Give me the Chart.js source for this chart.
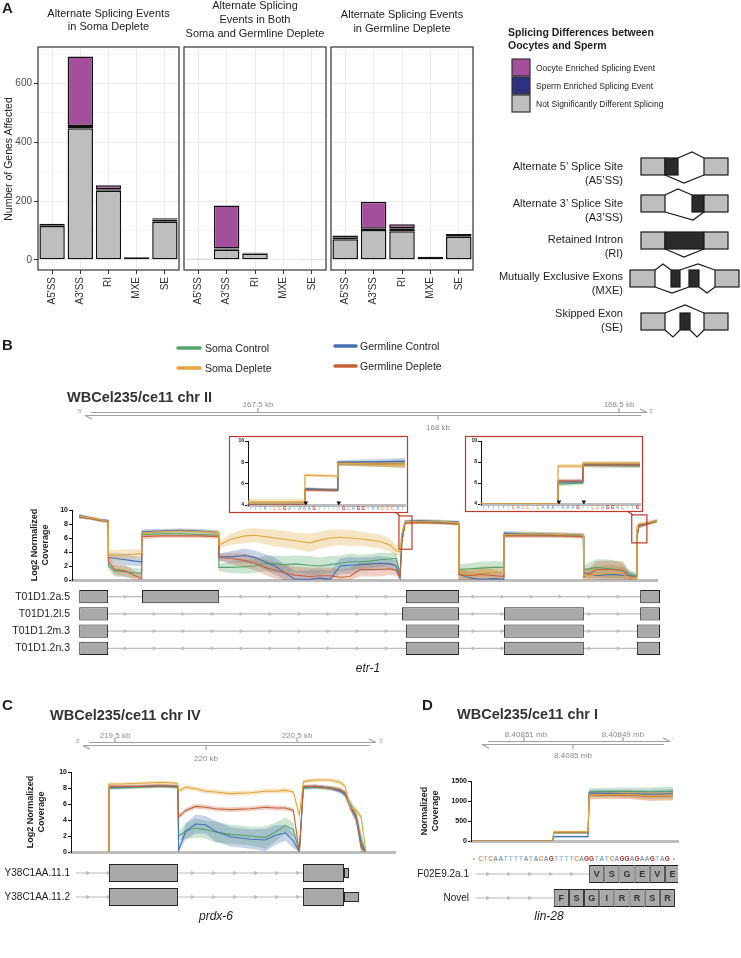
<!DOCTYPE html>
<html>
<head>
<meta charset="utf-8">
<title>Alternative splicing figure</title>
<script src="https://cdn.jsdelivr.net/npm/chart.js@4.4.1/dist/chart.umd.min.js"></script>
<style>
  body { margin: 0; background: #fff; }
  #page { position: relative; width: 741px; height: 958px; overflow: hidden; font-family: "Liberation Sans", Arial, sans-serif; color: #222; }
  #page canvas { position: absolute; left: 0; top: 0; }
  #art { position: absolute; left: 0; top: 0; }
  .t { position: absolute; white-space: pre; }
</style>
</head>
<body>
<div id="page">
  <canvas id="a1" width="741" height="958"></canvas>
  <canvas id="a2" width="741" height="958"></canvas>
  <canvas id="a3" width="741" height="958"></canvas>
  <canvas id="bCov" width="741" height="958"></canvas>
  <canvas id="bIn1" width="741" height="958"></canvas>
  <canvas id="bIn2" width="741" height="958"></canvas>
  <canvas id="bGenes" width="741" height="958"></canvas>
  <canvas id="cCov" width="741" height="958"></canvas>
  <canvas id="cGenes" width="741" height="958"></canvas>
  <canvas id="dCov" width="741" height="958"></canvas>
  <canvas id="dGenes" width="741" height="958"></canvas>

  <svg id="art" width="741" height="958" font-family="Liberation Sans, Arial, sans-serif">
    <!-- panel A key -->
    <g stroke="#333" stroke-width="1.2">
      <rect x="512" y="59" width="18" height="17" fill="#a44f9c"/>
      <rect x="512" y="77" width="18" height="17" fill="#2e3281"/>
      <rect x="512" y="95" width="18" height="17" fill="#bebebe"/>
    </g>
    <!-- splicing event schematics -->
    <g stroke="#1a1a1a" stroke-width="1.2">
      <rect x="641" y="158" width="24" height="17" fill="#bebebe"/>
      <rect x="665" y="158" width="13" height="17" fill="#2b2b2b"/>
      <rect x="704" y="158" width="24" height="17" fill="#bebebe"/>
      <polyline fill="none" points="678,158 692,152 704,158"/>
      <polyline fill="none" points="665,175 684,183 704,175"/>

      <rect x="641" y="195" width="24" height="17" fill="#bebebe"/>
      <rect x="692" y="195" width="12" height="17" fill="#2b2b2b"/>
      <rect x="704" y="195" width="24" height="17" fill="#bebebe"/>
      <polyline fill="none" points="665,195 678,189 692,195"/>
      <polyline fill="none" points="665,212 693,220 704,212"/>

      <rect x="641" y="232" width="24" height="17" fill="#bebebe"/>
      <rect x="665" y="232" width="39" height="17" fill="#2b2b2b"/>
      <rect x="704" y="232" width="24" height="17" fill="#bebebe"/>
      <polyline fill="none" points="665,249 684,257 704,249"/>

      <rect x="630" y="270" width="25" height="17" fill="#bebebe"/>
      <rect x="671" y="270" width="9" height="17" fill="#2b2b2b"/>
      <rect x="689" y="270" width="10" height="17" fill="#2b2b2b"/>
      <rect x="715" y="270" width="24" height="17" fill="#bebebe"/>
      <polyline fill="none" points="655,270 663,264 671,270"/>
      <polyline fill="none" points="680,270 698,264 715,270"/>
      <polyline fill="none" points="655,287 672,293 689,287"/>
      <polyline fill="none" points="699,287 707,293 715,287"/>

      <rect x="641" y="313" width="24" height="17" fill="#bebebe"/>
      <rect x="680" y="313" width="10" height="17" fill="#2b2b2b"/>
      <rect x="704" y="313" width="24" height="17" fill="#bebebe"/>
      <polyline fill="none" points="665,313 685,305 704,313"/>
      <polyline fill="none" points="665,330 673,337 680,330"/>
      <polyline fill="none" points="690,330 697,337 704,330"/>
    </g>
    <!-- panel B coverage key -->
    <g stroke-width="3.5" stroke-linecap="round">
      <line x1="178" y1="348" x2="200" y2="348" stroke="#55a46b"/>
      <line x1="178" y1="368" x2="200" y2="368" stroke="#e2a83e"/>
      <line x1="335" y1="346" x2="356" y2="346" stroke="#4471b4"/>
      <line x1="335" y1="366" x2="356" y2="366" stroke="#c8623a"/>
    </g>
    <!-- genome rulers -->
    <g stroke="#a0a0a0" stroke-width="1.2" fill="none">
      <path d="M91 412.5 H647 L640 409 M85 415.5 H641 M85 415.5 L92 419 M258 412.5 V408 M619 412.5 V408 M438 415.5 V420"/>
      <path d="M89 742.5 H376 L369 739 M83 745.5 H370 M83 745.5 L90 749 M115 742.5 V738 M297 742.5 V738 M206 745.5 V750"/>
      <path d="M488 741.5 H670 L663 738 M482 744.5 H664 M482 744.5 L489 748 M524 741.5 V737 M623 741.5 V737 M573 744.5 V749"/>
    </g>
    <g font-size="8" fill="#8c8c8c" text-anchor="middle">
      <text x="258" y="407">167.5 kb</text>
      <text x="438" y="430">168 kb</text>
      <text x="619" y="407">168.5 kb</text>
      <text x="115" y="738">219.5 kb</text>
      <text x="206" y="761">220 kb</text>
      <text x="297" y="738">220.5 kb</text>
      <text x="526" y="737">8.40851 mb</text>
      <text x="573" y="758">8.4085 mb</text>
      <text x="623" y="737">8.40849 mb</text>
    </g>
    <g font-size="6" fill="#9a9a9a">
      <text x="78" y="413">5'</text>
      <text x="649" y="413">3'</text>
      <text x="76" y="743">5'</text>
      <text x="379" y="743">3'</text>
      <text x="672" y="742">'</text>
    </g>
    <!-- zoom frames for panel B -->
    <g stroke="#c0392b" stroke-width="1.2" fill="none">
      <rect x="229.5" y="436.5" width="178" height="76"/>
      <rect x="465.5" y="436.5" width="177" height="75"/>
      <line x1="396" y1="512.5" x2="400" y2="516"/>
      <line x1="628" y1="511.5" x2="633" y2="515"/>
    </g>
  </svg>
</div>

<script>
Chart.defaults.animation = false;
Chart.defaults.responsive = false;
Chart.defaults.maintainAspectRatio = false;
Chart.defaults.events = [];
Chart.defaults.font.family = '"Liberation Sans", Arial, sans-serif';
Chart.defaults.plugins.legend.display = false;
Chart.defaults.plugins.tooltip.enabled = false;
Chart.defaults.layout.autoPadding = false;

const W = 741, H = 958;

// ---------- panel A : splicing events per category ----------
const aCats = ["A5'SS", "A3'SS", 'RI', 'MXE', 'SE'];
const somaNS = [115, 448, 235, 9, 130];
const somaSperm = [3, 8, 5, 0, 7];
const somaOocyte = [5, 236, 14, 0, 5];
const bothNS = [3, 34, 22, 0, 2];
const bothSperm = [1, 5, 2, 0, 1];
const bothOocyte = [0, 146, 1, 0, 0];
const germNS = [70, 102, 97, 11, 79];
const germSperm = [5, 4, 11, 0, 6];
const germOocyte = [8, 92, 13, 0, 3];
const aTicks = [0, 100, 200, 300, 400, 500, 600, 700];

// ---------- panel B : etr-1 coverage (log2) ----------
const bX = [167006, 167036, 167064, 167086,
  167087, 167105, 167133, 167161, 167179,
  167180, 167230, 167285, 167341, 167392,
  167393, 167424, 167465, 167493, 167521, 167548, 167576, 167604, 167645, 167673, 167701, 167729, 167756, 167784, 167812, 167839, 167867, 167884, 167895,
  167900,
  167909, 167950, 168006, 168057,
  168058, 168089, 168116, 168158, 168182,
  168183, 168255, 168338, 168403,
  168404, 168440, 168476, 168512, 168532, 168549,
  168551,
  168557, 168573, 168607];
const bSomaDep = [9.1, 8.9, 8.6, 8.4,
  3.6, 3.5, 3.6, 3.7, 3.8,
  6.7, 6.9, 7.0, 6.9, 6.8,
  5.0, 5.8, 6.3, 6.4, 6.2, 6.0, 5.8, 5.6, 5.3, 5.7, 6.0, 6.1, 6.0, 5.9, 5.7, 5.5, 5.0, 4.2, 4.0,
  6.8,
  8.3, 8.4, 8.4, 8.2,
  1.0, 0.8, 1.0, 1.1, 1.0,
  6.5, 6.6, 6.5, 6.4,
  0.6, 0.8, 1.0, 0.9, 0.3, 0.2,
  7.6,
  8.0, 8.1, 8.5];
const bSomaCtl = [9.0, 8.8, 8.5, 8.3,
  2.0, 1.3, 1.2, 1.0, 1.0,
  6.5, 6.6, 6.6, 6.5, 6.4,
  1.8, 1.8, 1.9, 2.0, 2.4, 2.3, 2.2, 2.3, 2.1, 2.0, 2.2, 2.4, 2.6, 2.6, 2.7, 2.9, 3.0, 3.1, 1.0,
  5.5,
  8.2, 8.3, 8.2, 8.0,
  1.5, 1.6, 1.7, 1.8, 1.8,
  6.4, 6.5, 6.4, 6.3,
  1.5, 1.8, 1.6, 1.4, 0.8, 0.6,
  6.0,
  7.7, 7.9, 8.4];
const bGermCtl = [9.2, 8.9, 8.6, 8.5,
  3.2, 3.1, 2.9, 2.7, 2.6,
  6.9, 7.0, 7.1, 7.0, 6.8,
  3.3, 3.3, 3.5, 3.2, 2.6, 2.0, 1.0, 0.1, 0.1, 0.3, 0.1, 2.0, 2.1, 2.2, 2.3, 2.4, 2.3, 2.0, 0.3,
  5.5,
  8.4, 8.5, 8.4, 8.3,
  0.8, 0.3, 0.1, 0.2, 0.1,
  6.7, 6.6, 6.5, 6.4,
  1.0, 0.6, 0.8, 0.7, 0.6, 0.5,
  6.1,
  7.8, 8.0, 8.5];
const bGermDep = [9.0, 8.8, 8.5, 8.4,
  2.6, 1.5, 1.3, 0.6, 0.2,
  6.2, 6.3, 6.3, 6.3, 6.2,
  3.2, 3.1, 2.8, 2.4, 1.8, 1.4, 1.0, 0.7, 0.5, 0.6, 0.6, 0.4, 0.5, 1.5, 1.5, 1.5, 1.6, 1.4, 0.3,
  5.4,
  8.1, 8.2, 8.1, 8.0,
  0.8, 0.6, 0.8, 0.6, 0.5,
  6.3, 6.3, 6.3, 6.2,
  0.4, 1.5, 1.5, 1.4, 0.3, 0.2,
  6.2,
  7.7, 7.9, 8.4];
const bSpread = [0.25, 0.2, 0.2, 0.2,
  0.6, 0.8, 0.8, 0.7, 0.6,
  0.4, 0.3, 0.3, 0.3, 0.3,
  0.5, 0.8, 1.0, 1.0, 1.1, 1.2, 1.2, 1.2, 1.3, 1.2, 1.2, 1.1, 1.2, 1.0, 1.0, 1.0, 0.9, 0.8, 0.5,
  0.3,
  0.2, 0.2, 0.2, 0.2,
  0.8, 0.8, 0.9, 0.9, 0.8,
  0.3, 0.3, 0.3, 0.3,
  0.6, 1.2, 1.3, 1.2, 0.6, 0.4,
  0.3,
  0.3, 0.25, 0.2];
const bZoomBoxes = [[167892, 167928, 4.4, 9.15], [168537, 168579, 5.3, 9.3]];

// zoomed splice junctions (base index along the shown sequence)
const in1X = [0, 11.6, 11.6, 18.3, 18.3, 32];
const in1SomaDep = [4.3, 4.3, 6.8, 6.7, 7.9, 7.8];
const in1SomaCtl = [4.0, 4.0, 5.5, 5.4, 7.9, 7.8];
const in1GermCtl = [4.0, 4.0, 5.5, 5.4, 8.0, 8.1];
const in1GermDep = [4.0, 4.0, 5.4, 5.4, 7.9, 7.8];
const in1Spread = [0.3, 0.3, 0.15, 0.15, 0.2, 0.3];
const in1Marks = [11.8, 18.5];
const in1Seq = 'TTTATCCGATAAAGTTTTTGCAGGTAACCCATTG';
const in2X = [0, 15.5, 15.5, 20.5, 20.5, 32];
const in2SomaDep = [4.0, 4.0, 7.6, 7.6, 7.9, 7.9];
const in2SomaCtl = [4.0, 4.0, 5.9, 6.0, 7.7, 7.6];
const in2GermCtl = [4.0, 4.0, 6.1, 6.1, 7.8, 7.8];
const in2GermDep = [4.0, 4.0, 6.2, 6.2, 7.7, 7.7];
const in2Spread = [0.05, 0.05, 0.2, 0.2, 0.2, 0.2];
const in2Marks = [15.7, 20.7];
const in2Seq = 'TTTTTTCACCTCAAATAAAGTTCCAGGACTTGCC';

const bRows = ['T01D1.2a.5', 'T01D1.2l.5', 'T01D1.2m.3', 'T01D1.2n.3'];
const bSpans = [[167006, 168615], [167006, 168615], [167006, 168615], [167006, 168615]];
const bExons = [
  [[167006, 167086], [167180, 167393], [167911, 168058], [168560, 168615]],
  [[167006, 167086], [167900, 168058], [168183, 168404], [168560, 168615]],
  [[167006, 167086], [167911, 168058], [168183, 168404], [168551, 168615]],
  [[167006, 167086], [167911, 168058], [168183, 168404], [168551, 168615]]
];

// ---------- panel C : prdx-6 coverage (log2) ----------
const cX = [219461, 219462, 219528, 219638, 219747, 219841,
  219846, 219885, 219940, 219995, 220049, 220132, 220242, 220324, 220379, 220434, 220478, 220511,
  220533, 220598, 220681, 220736, 220763, 220791, 220824, 220851, 220878];
const cSomaDep = [0, 8.5, 8.5, 8.6, 8.7, 8.6, 7.6, 8.1, 7.9, 7.6, 7.5, 7.3, 7.4, 7.6, 7.6, 7.7, 7.5, 4.6, 8.8, 9.0, 9.0, 8.7, 8.2, 5.6, 5.2, 4.4, 0];
const cSomaCtl = [0, 8.0, 8.0, 8.1, 8.2, 8.1, 2.0, 2.6, 3.0, 2.8, 2.5, 2.2, 2.0, 1.8, 2.5, 3.3, 2.8, 0, 8.0, 8.1, 8.0, 7.7, 7.3, 6.0, 4.6, 1.5, 0];
const cGermCtl = [0, 8.1, 8.1, 8.2, 8.3, 8.2, 0.2, 2.6, 3.5, 3.4, 2.6, 1.9, 1.6, 1.5, 2.1, 2.4, 1.4, 0, 8.1, 8.2, 8.0, 7.6, 7.2, 5.8, 4.2, 1.0, 0];
const cGermDep = [0, 8.2, 8.2, 8.2, 8.3, 8.2, 4.4, 5.2, 5.7, 5.6, 5.4, 5.3, 5.4, 5.6, 5.5, 5.5, 5.2, 0, 8.2, 8.2, 8.0, 7.8, 7.4, 5.6, 4.3, 0.6, 0];
const cSpreadDep = [0, 0.25, 0.2, 0.2, 0.2, 0.2, 0.3, 0.3, 0.3, 0.3, 0.3, 0.3, 0.3, 0.3, 0.3, 0.3, 0.3, 0, 0.25, 0.25, 0.25, 0.3, 0.3, 0.4, 0.4, 0.4, 0];
const cSpreadCtl = [0, 0.25, 0.2, 0.2, 0.2, 0.2, 0.5, 1.0, 1.2, 1.1, 1.3, 1.2, 1.2, 1.4, 1.2, 1.0, 0.9, 0, 0.25, 0.25, 0.25, 0.3, 0.4, 0.6, 0.7, 1.2, 0];

const cRows = ['Y38C1AA.11.1', 'Y38C1AA.11.2'];
const cSpans = [[219283, 220785], [219283, 220840]];
const cExons = [
  [[219467, 219846], [220533, 220758]],
  [[219467, 219846], [220533, 220758]]
];
const cUtr = [[220758, 220785], [220758, 220840]];

// ---------- panel D : lin-28 coverage (base index along sequence) ----------
const dX = [-1.2, 14.8, 15.0, 21.8, 22.0, 26, 30, 34, 38.6];
const dSomaDep = [0, 0, 230, 230, 1150, 1160, 1170, 1120, 1150];
const dSomaCtl = [0, 0, 200, 200, 1230, 1240, 1240, 1230, 1240];
const dGermCtl = [0, 0, 110, 110, 1200, 1190, 1180, 1170, 1180];
const dGermDep = [0, 0, 220, 220, 1130, 1140, 1150, 1110, 1130];
const dSpread = [0, 0, 25, 25, 90, 90, 100, 110, 120];
const dSeq = 'CTCAATTTTATACAGTTTTCAGGTATCAGGAGAAGTAG';
const dRows = ['F02E9.2a.1', 'Novel'];
const dSpans = [[-0.5, 22], [-0.5, 15]];
const dCodons = [
  [[22, 25, 'V'], [25, 28, 'S'], [28, 31, 'G'], [31, 34, 'E'], [34, 37, 'V'], [37, 40, 'E']],
  [[15, 18, 'F'], [18, 21, 'S'], [21, 24, 'G'], [24, 27, 'I'], [27, 30, 'R'], [30, 33, 'R'], [33, 36, 'S'], [36, 39, 'R']]
];

const COL = { sc: '#55a46b', sd: '#e2a83e', gc: '#4471b4', gd: '#c8623a' };
const baseCol = { A: '#7f9fc0', C: '#e8904f', G: '#b8322a', T: '#9dbad8' };
const FONT = '"Liberation Sans", Arial, sans-serif';

function pad(area, yw, xh) {
  return { left: area.l - yw, top: area.t, right: W - area.r, bottom: H - area.b - xh };
}

function alpha(hex, a) {
  const n = parseInt(hex.slice(1), 16);
  return 'rgba(' + (n >> 16) + ',' + ((n >> 8) & 255) + ',' + (n & 255) + ',' + a + ')';
}

const frame = {
  id: 'frame',
  afterDraw(c) {
    const a = c.chartArea, ctx = c.ctx;
    ctx.save();
    ctx.strokeStyle = '#333';
    ctx.lineWidth = 1.2;
    ctx.strokeRect(a.left, a.top, a.right - a.left, a.bottom - a.top);
    ctx.restore();
  }
};

function facet(id, area, ns, sperm, oocyte, showY) {
  const sets = [
    { data: ns, backgroundColor: '#bebebe' },
    { data: sperm, backgroundColor: '#2e3281' },
    { data: oocyte, backgroundColor: '#a44f9c' }
  ];
  sets.forEach(d => Object.assign(d, { borderColor: '#111', borderWidth: 1.5, borderSkipped: false, barPercentage: 0.9, categoryPercentage: 1 }));
  const major = c => c.tick && c.tick.value % 200 === 0;
  new Chart(document.getElementById(id), {
    type: 'bar',
    data: { labels: aCats, datasets: sets },
    options: {
      layout: { padding: pad(area, showY ? 38 : 0, 40) },
      scales: {
        x: {
          stacked: true,
          afterFit: s => { s.height = 40; },
          grid: { offset: false, color: '#ebebeb', tickLength: 4, tickColor: '#333' },
          border: { display: false },
          ticks: { maxRotation: 90, minRotation: 90, autoSkip: false, color: '#333', font: { size: 10 }, padding: 3 }
        },
        y: {
          stacked: true, min: -34.5, max: 724.5,
          afterBuildTicks: s => { s.ticks = aTicks.map(v => ({ value: v })); },
          afterFit: s => { s.width = showY ? 38 : 0; },
          grid: {
            color: '#ebebeb',
            lineWidth: c => major(c) ? 1 : 0.5,
            drawTicks: showY, tickLength: 4,
            tickColor: c => major(c) ? '#333' : 'rgba(0,0,0,0)'
          },
          border: { display: false },
          ticks: { display: showY, color: '#4d4d4d', font: { size: 10 }, padding: 2, callback: v => v % 200 === 0 ? v : '' }
        }
      }
    },
    plugins: [frame]
  });
}

facet('a1', { l: 38, t: 47, r: 179, b: 270 }, somaNS, somaSperm, somaOocyte, true);
facet('a2', { l: 184, t: 47, r: 326, b: 270 }, bothNS, bothSperm, bothOocyte, false);
facet('a3', { l: 331, t: 47, r: 473, b: 270 }, germNS, germSperm, germOocyte, false);

function covDatasets(xs, series) {
  const ds = [];
  series.forEach((s, k) => {
    const pts = f => xs.map((x, i) => ({ x: x, y: f(s.v[i], s.sp[i]) }));
    ds.push({ data: pts((v, sp) => Math.max(0, v - sp)), borderWidth: 0, pointRadius: 0, fill: false, order: 20 + k });
    ds.push({ data: pts((v, sp) => v + sp), borderWidth: 0, pointRadius: 0, fill: '-1', backgroundColor: alpha(s.c, 0.3), order: 20 + k });
    ds.push({ data: pts(v => v), borderColor: s.c, borderWidth: s.w || 1.1, pointRadius: 0, fill: false, order: k });
  });
  return ds;
}

function coverage(id, area, yw, xr, yTicks, fs, datasets, extra) {
  return new Chart(document.getElementById(id), {
    type: 'line',
    data: { datasets: datasets },
    options: {
      layout: { padding: pad(area, yw, 0) },
      elements: { point: { radius: 0 }, line: { tension: 0 } },
      scales: {
        x: {
          type: 'linear', min: xr[0], max: xr[1],
          afterFit: s => { s.height = 0; },
          grid: { display: false, drawTicks: false },
          ticks: { display: false },
          border: { color: '#bdbdbd', width: 3 }
        },
        y: {
          min: yTicks[0], max: yTicks[yTicks.length - 1],
          afterBuildTicks: s => { s.ticks = yTicks.map(v => ({ value: v })); },
          afterFit: s => { s.width = yw; },
          grid: { drawOnChartArea: false, tickLength: 3, tickColor: '#111' },
          border: { color: '#111', width: 1 },
          ticks: { color: '#111', font: { size: fs, weight: 'bold' }, padding: 1, callback: v => String(v) }
        }
      }
    },
    plugins: extra || []
  });
}

function seqPlugin(seq, where, size, bullets) {
  return {
    id: 'seq',
    afterDraw(c) {
      const ctx = c.ctx, xs = c.scales.x, a = c.chartArea;
      const y = where === 'below' ? a.bottom + 4 : a.top - 3;
      ctx.save();
      ctx.font = 'bold ' + size + 'px ' + FONT;
      ctx.textAlign = 'center';
      ctx.textBaseline = 'middle';
      [...seq].forEach((b, i) => {
        const x = xs.getPixelForValue(i + 0.5);
        if (x > a.right) return;
        ctx.fillStyle = baseCol[b];
        ctx.fillText(b, x, y);
      });
      if (bullets) {
        ctx.fillStyle = '#aaa';
        ctx.fillText('•', xs.getPixelForValue(-0.8), y);
        ctx.fillText('•', xs.getPixelForValue(seq.length + 0.8), y);
      }
      ctx.restore();
    }
  };
}

const zoomBoxes = {
  id: 'zoomBoxes',
  afterDraw(c) {
    const xs = c.scales.x, ys = c.scales.y, ctx = c.ctx;
    ctx.save();
    ctx.strokeStyle = '#c0392b';
    ctx.lineWidth = 1.2;
    bZoomBoxes.forEach(b => {
      const x0 = xs.getPixelForValue(b[0]), x1 = xs.getPixelForValue(b[1]);
      const y0 = ys.getPixelForValue(b[3]), y1 = ys.getPixelForValue(b[2]);
      ctx.strokeRect(x0, y0, x1 - x0, y1 - y0);
    });
    ctx.restore();
  }
};

// B main coverage
coverage('bCov', { l: 72, t: 510, r: 657, b: 580 }, 16, [166986, 168607], [0, 2, 4, 6, 8, 10], 7,
  covDatasets(bX, [
    { v: bSomaDep, sp: bSpread, c: COL.sd },
    { v: bGermDep, sp: bSpread, c: COL.gd },
    { v: bGermCtl, sp: bSpread, c: COL.gc },
    { v: bSomaCtl, sp: bSpread, c: COL.sc }
  ]), [zoomBoxes]);

function insetSets(xs, sd, sc, gc, gd, sp, marks) {
  const ds = covDatasets(xs, [
    { v: sd, sp: sp, c: COL.sd, w: 1.3 },
    { v: gd, sp: sp, c: COL.gd, w: 1.3 },
    { v: gc, sp: sp, c: COL.gc, w: 1.3 },
    { v: sc, sp: sp, c: COL.sc, w: 1.3 }
  ]);
  ds.push({
    type: 'scatter', data: marks.map(m => ({ x: m, y: 4.2 })),
    pointStyle: 'triangle', rotation: 180, pointRadius: 2.6,
    backgroundColor: '#111', borderWidth: 0, order: -1
  });
  return ds;
}

coverage('bIn1', { l: 248, t: 441, r: 405, b: 505 }, 12, [0, 32], [4, 6, 8, 10], 5,
  insetSets(in1X, in1SomaDep, in1SomaCtl, in1GermCtl, in1GermDep, in1Spread, in1Marks),
  [seqPlugin(in1Seq, 'below', 4.5, false)]);
coverage('bIn2', { l: 481, t: 441, r: 640, b: 504 }, 12, [0, 32], [4, 6, 8, 10], 5,
  insetSets(in2X, in2SomaDep, in2SomaCtl, in2GermCtl, in2GermDep, in2Spread, in2Marks),
  [seqPlugin(in2Seq, 'below', 4.5, false)]);

// gene model tracks
function introns(spans, step) {
  return {
    id: 'introns',
    beforeDatasetsDraw(c) {
      const ctx = c.ctx, xs = c.scales.x, ys = c.scales.y;
      ctx.save();
      ctx.strokeStyle = '#bdbdbd';
      ctx.fillStyle = '#bdbdbd';
      ctx.lineWidth = 1.2;
      spans.forEach((sp, i) => {
        const y = ys.getPixelForValue(i);
        const x0 = xs.getPixelForValue(sp[0]), x1 = Math.min(xs.getPixelForValue(sp[1]), c.chartArea.right);
        ctx.beginPath(); ctx.moveTo(x0, y); ctx.lineTo(x1, y); ctx.stroke();
        for (let x = x0 + step * 0.6; x < x1 - 3; x += step) {
          ctx.beginPath(); ctx.moveTo(x - 2, y - 2.2); ctx.lineTo(x + 2, y); ctx.lineTo(x - 2, y + 2.2); ctx.closePath(); ctx.fill();
        }
      });
      ctx.restore();
    }
  };
}

const cellText = {
  id: 'cellText',
  afterDatasetsDraw(c) {
    const ctx = c.ctx, a = c.chartArea;
    ctx.save();
    ctx.beginPath(); ctx.rect(a.left, a.top, a.right - a.left, a.bottom - a.top); ctx.clip();
    ctx.font = 'bold 9px ' + FONT;
    ctx.fillStyle = '#333';
    ctx.textAlign = 'center';
    ctx.textBaseline = 'middle';
    c.data.datasets.forEach((ds, d) => {
      if (!ds.aa) return;
      c.getDatasetMeta(d).data.forEach((el, i) => {
        if (!ds.aa[i]) return;
        const p = el.getProps(['x', 'y', 'base'], true);
        ctx.fillText(ds.aa[i], (p.x + p.base) / 2, p.y + 0.5);
      });
    });
    ctx.restore();
  }
};

function exonSets(rows, exons, thick) {
  const n = Math.max(...exons.map(e => e.length));
  const sets = [];
  for (let k = 0; k < n; k++) {
    sets.push({
      data: rows.map((r, i) => exons[i][k] ? [exons[i][k][0], exons[i][k][1]] : null),
      aa: exons[0][0].length > 2 ? rows.map((r, i) => exons[i][k] ? exons[i][k][2] : null) : undefined,
      backgroundColor: '#a9a9a9', borderColor: '#222', borderWidth: 1, borderSkipped: false,
      grouped: false, barPercentage: thick, categoryPercentage: 1
    });
  }
  return sets;
}

function geneChart(id, area, rows, spans, sets, xr, step, fs, extra) {
  return new Chart(document.getElementById(id), {
    type: 'bar',
    data: { labels: rows, datasets: sets },
    options: {
      indexAxis: 'y',
      layout: { padding: pad(area, area.l, 0) },
      scales: {
        x: { type: 'linear', min: xr[0], max: xr[1], display: false },
        y: {
          type: 'category',
          afterFit: s => { s.width = area.l; },
          grid: { display: false, drawTicks: false, tickLength: 0 }, border: { display: false },
          ticks: { color: '#222', font: { size: fs }, padding: 2, autoSkip: false }
        }
      }
    },
    plugins: [introns(spans, step)].concat(extra || [])
  });
}

geneChart('bGenes', { l: 72, t: 588, r: 660, b: 657 }, bRows, bSpans,
  exonSets(bRows, bExons, 0.78), [166986, 168615], 29, 10.5);

// C
coverage('cCov', { l: 71, t: 772, r: 395, b: 852 }, 16, [219253, 221038], [0, 2, 4, 6, 8, 10], 7,
  covDatasets(cX, [
    { v: cSomaDep, sp: cSpreadDep, c: COL.sd },
    { v: cGermDep, sp: cSpreadDep, c: COL.gd },
    { v: cGermCtl, sp: cSpreadCtl, c: COL.gc },
    { v: cSomaCtl, sp: cSpreadCtl, c: COL.sc }
  ]));
const cSets = exonSets(cRows, cExons, 0.75).concat([{
  data: cUtr, backgroundColor: '#a9a9a9', borderColor: '#222', borderWidth: 1, borderSkipped: false,
  grouped: false, barPercentage: 0.42, categoryPercentage: 1
}]);
geneChart('cGenes', { l: 72, t: 861, r: 395, b: 909 }, cRows, cSpans, cSets, [219264, 221038], 21, 10);

// D
coverage('dCov', { l: 471, t: 781, r: 678, b: 841 }, 24, [-1.39, 39.6], [0, 500, 1000, 1500], 7,
  covDatasets(dX, [
    { v: dSomaDep, sp: dSpread, c: COL.sd },
    { v: dGermDep, sp: dSpread, c: COL.gd },
    { v: dGermCtl, sp: dSpread, c: COL.gc },
    { v: dSomaCtl, sp: dSpread, c: COL.sc }
  ]));
geneChart('dGenes', { l: 471, t: 862, r: 678, b: 910 }, dRows, dSpans,
  exonSets(dRows, dCodons, 0.75), [-1.39, 39.6], 21, 10, [cellText, seqPlugin(dSeq, 'above', 6.5, true)]);

// ---------- text ----------
const page = document.getElementById('page');
function txt(s, x, y, o) {
  o = o || {};
  const d = document.createElement('div');
  d.className = 't';
  d.textContent = s;
  const size = o.size || 11;
  d.style.fontSize = size + 'px';
  d.style.lineHeight = (o.lh || Math.round(size * 1.2)) + 'px';
  if (o.bold) d.style.fontWeight = 'bold';
  if (o.italic) d.style.fontStyle = 'italic';
  d.style.color = o.color || '#1e1e1e';
  const al = o.align || 'center';
  d.style.textAlign = al;
  d.style.left = x + 'px';
  d.style.top = y + 'px';
  const tx = al === 'left' ? '0' : al === 'right' ? '-100%' : '-50%';
  d.style.transform = 'translate(' + tx + ',-50%)' + (o.rot ? ' rotate(' + o.rot + 'deg)' : '');
  page.appendChild(d);
}

txt('A', 2, 8, { size: 15, bold: true, align: 'left' });
txt('Alternate Splicing Events\nin Soma Deplete', 108.5, 19.5, { size: 11, lh: 13.5 });
txt('Alternate Splicing\nEvents in Both\nSoma and Germline Deplete', 255, 19, { size: 11, lh: 14 });
txt('Alternate Splicing Events\nin Germline Deplete', 402, 21, { size: 11, lh: 13.5 });
txt('Number of Genes Affected', 8, 159, { size: 10.5, rot: -90, color: '#222' });

txt('Splicing Differences between\nOocytes and Sperm', 508, 38.5, { size: 10.5, bold: true, align: 'left', lh: 13 });
txt('Oocyte Enriched Splicing Event', 536, 68, { size: 8.5, align: 'left' });
txt('Sperm Enriched Splicing Event', 536, 86, { size: 8.5, align: 'left' });
txt('Not Significantly Different Splicing', 536, 104, { size: 8.5, align: 'left' });

txt('Alternate 5\u2019 Splice Site\n(A5\u2019SS)', 623, 173, { size: 11, align: 'right', lh: 14 });
txt('Alternate 3\u2019 Splice Site\n(A3\u2019SS)', 623, 210, { size: 11, align: 'right', lh: 14 });
txt('Retained Intron\n(RI)', 623, 246, { size: 11, align: 'right', lh: 14 });
txt('Mutually Exclusive Exons\n(MXE)', 623, 283, { size: 11, align: 'right', lh: 14 });
txt('Skipped Exon\n(SE)', 623, 320, { size: 11, align: 'right', lh: 14 });

txt('B', 2, 345, { size: 15, bold: true, align: 'left' });
txt('Soma Control', 205, 348, { size: 10.5, align: 'left' });
txt('Soma Deplete', 205, 368, { size: 10.5, align: 'left' });
txt('Germline Control', 360, 346, { size: 10.5, align: 'left' });
txt('Germline Deplete', 360, 366, { size: 10.5, align: 'left' });
txt('WBCel235/ce11 chr II', 67, 397, { size: 14.5, bold: true, align: 'left', color: '#333' });
txt('Log2 Normalized\nCoverage', 40, 545, { size: 9, bold: true, rot: -90, lh: 11 });
txt('etr-1', 368, 668, { size: 12, italic: true });

txt('C', 2, 705, { size: 15, bold: true, align: 'left' });
txt('WBCel235/ce11 chr IV', 50, 715, { size: 14.5, bold: true, align: 'left', color: '#333' });
txt('Log2 Normalized\nCoverage', 36, 812, { size: 9, bold: true, rot: -90, lh: 11 });
txt('prdx-6', 216, 916, { size: 12, italic: true });

txt('D', 422, 705, { size: 15, bold: true, align: 'left' });
txt('WBCel235/ce11 chr I', 457, 714, { size: 14.5, bold: true, align: 'left', color: '#333' });
txt('Normalized\nCoverage', 430, 811, { size: 9, bold: true, rot: -90, lh: 11 });
txt('lin-28', 549, 916, { size: 12, italic: true });
</script>
</body>
</html>
